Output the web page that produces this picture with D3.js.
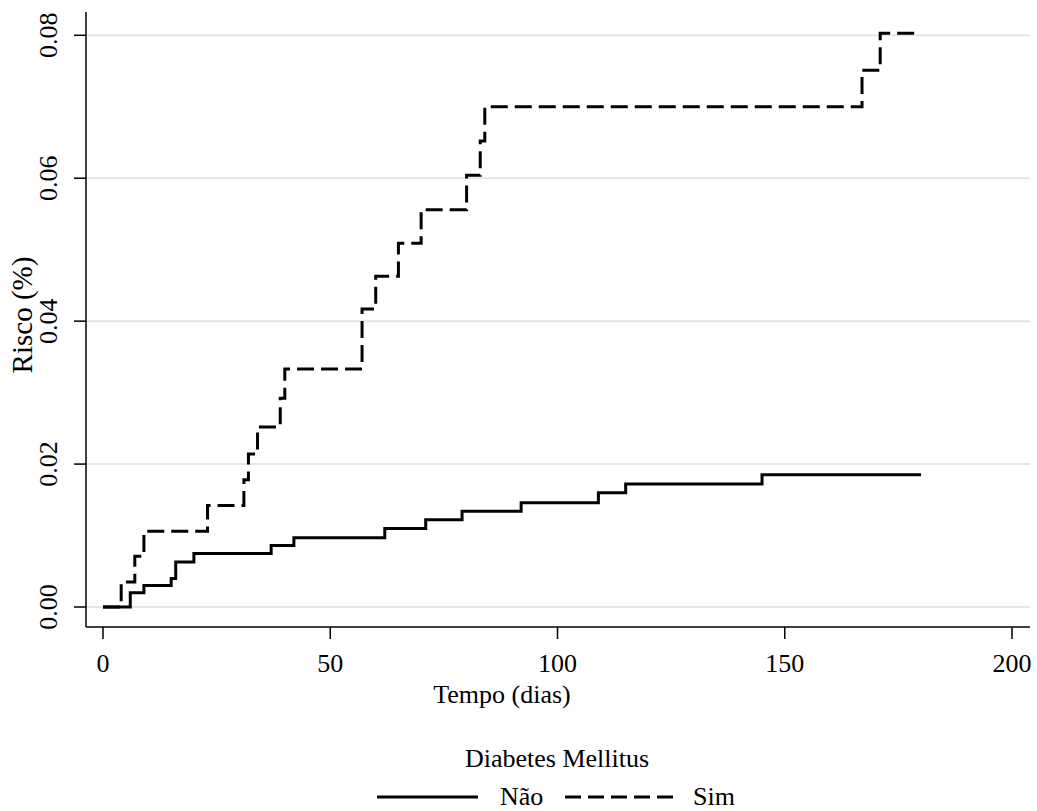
<!DOCTYPE html>
<html>
<head>
<meta charset="utf-8">
<script src="https://cdn.jsdelivr.net/npm/d3@7"></script>
<style>
body { margin: 0; background: #fff; }
svg text { font-family: "Liberation Serif", "DejaVu Serif", serif; fill: #000; }
</style>
</head>
<body>
<svg id="chart" width="1037" height="811"></svg>
<script>
// cumulative risk step data
var naoTimes = [0, 6, 9, 15, 16, 20, 37, 42, 62, 71, 79, 92, 109, 115, 145, 180];
var naoRisk = [0, 0.002, 0.003, 0.004, 0.0063, 0.0075, 0.0086, 0.0097, 0.011, 0.0122, 0.0134, 0.0146, 0.016, 0.0172, 0.0185, 0.0185];

var simTimes = [0, 4, 7, 9, 23, 31, 32, 34, 39, 40, 57, 60, 65, 70, 80, 83, 84, 167, 171, 180];
var simRisk = [0, 0.0035, 0.0071, 0.0106, 0.0142, 0.0178, 0.0214, 0.0252, 0.0292, 0.0333, 0.0417, 0.0463, 0.0509, 0.0556, 0.0604, 0.0652, 0.0700, 0.0751, 0.0803, 0.0803];

var xTicks = [0, 50, 100, 150, 200];
var yTicks = [0, 0.02, 0.04, 0.06, 0.08];
var legendLabels = ['Não', 'Sim'];

var svg = d3.select('#chart');

var x = d3.scaleLinear().domain([0, 200]).range([103, 1012]);
var y = d3.scaleLinear().domain([0, 0.08]).range([607, 35.3]);

// plot frame (note: "top" is taken by window.top)
var frameL = 86, frameR = 1030, frameT = 12, frameB = 627;

// gridlines
svg.selectAll('line.grid')
	.data(yTicks)
	.enter().append('line')
	.attr('class', 'grid')
	.attr('x1', frameL).attr('x2', frameR)
	.attr('y1', d => y(d)).attr('y2', d => y(d))
	.attr('stroke', '#e6e6e6')
	.attr('stroke-width', 2);

// axis frame
svg.append('line')
	.attr('x1', frameL).attr('x2', frameL)
	.attr('y1', frameT).attr('y2', frameB)
	.attr('stroke', '#000').attr('stroke-width', 1.5);
svg.append('line')
	.attr('x1', frameL).attr('x2', frameR)
	.attr('y1', frameB).attr('y2', frameB)
	.attr('stroke', '#000').attr('stroke-width', 1.5);

// y ticks + rotated labels
svg.selectAll('line.ytick')
	.data(yTicks)
	.enter().append('line')
	.attr('class', 'ytick')
	.attr('x1', frameL - 12).attr('x2', frameL)
	.attr('y1', d => y(d)).attr('y2', d => y(d))
	.attr('stroke', '#000').attr('stroke-width', 1.5);

svg.selectAll('text.ylab')
	.data(yTicks)
	.enter().append('text')
	.attr('class', 'ylab')
	.attr('transform', d => `translate(57,${y(d)}) rotate(-90)`)
	.attr('text-anchor', 'middle')
	.attr('font-size', 26)
	.text(d => d3.format('.2f')(d));

// x ticks + labels
svg.selectAll('line.xtick')
	.data(xTicks)
	.enter().append('line')
	.attr('class', 'xtick')
	.attr('x1', d => x(d)).attr('x2', d => x(d))
	.attr('y1', frameB).attr('y2', frameB + 12)
	.attr('stroke', '#000').attr('stroke-width', 1.5);

svg.selectAll('text.xlab')
	.data(xTicks)
	.enter().append('text')
	.attr('class', 'xlab')
	.attr('x', d => x(d))
	.attr('y', 672)
	.attr('text-anchor', 'middle')
	.attr('font-size', 26)
	.text(d => d);

// axis titles
svg.append('text')
	.attr('x', 502).attr('y', 703)
	.attr('text-anchor', 'middle')
	.attr('font-size', 26)
	.text('Tempo (dias)');

svg.append('text')
	.attr('transform', 'translate(32,315) rotate(-90)')
	.attr('text-anchor', 'middle')
	.attr('font-size', 29)
	.text('Risco (%)');

// step curves
var line = d3.line()
	.x(d => x(d[0]))
	.y(d => y(d[1]))
	.curve(d3.curveStepAfter);

var naoData = naoTimes.map((t, i) => [t, naoRisk[i]]);
var simData = simTimes.map((t, i) => [t, simRisk[i]]);

svg.append('path')
	.attr('d', line(naoData))
	.attr('fill', 'none')
	.attr('stroke', '#000')
	.attr('stroke-width', 3);

svg.append('path')
	.attr('d', line(simData))
	.attr('fill', 'none')
	.attr('stroke', '#000')
	.attr('stroke-width', 3)
	.attr('stroke-dasharray', '17,7');

// legend
svg.append('text')
	.attr('x', 557).attr('y', 767)
	.attr('text-anchor', 'middle')
	.attr('font-size', 26)
	.text('Diabetes Mellitus');

var keys = [
	{ x1: 377, len: 101, tx: 500, label: legendLabels[0], dash: null },
	{ x1: 565, len: 108, tx: 693, label: legendLabels[1], dash: '16,7' }
];
keys.forEach(function (k) {
	svg.append('line')
		.attr('x1', k.x1).attr('x2', k.x1 + k.len)
		.attr('y1', 797).attr('y2', 797)
		.attr('stroke', '#000')
		.attr('stroke-width', 3)
		.attr('stroke-dasharray', k.dash);
	svg.append('text')
		.attr('x', k.tx).attr('y', 805)
		.attr('font-size', 26)
		.text(k.label);
});
</script>
</body>
</html>
